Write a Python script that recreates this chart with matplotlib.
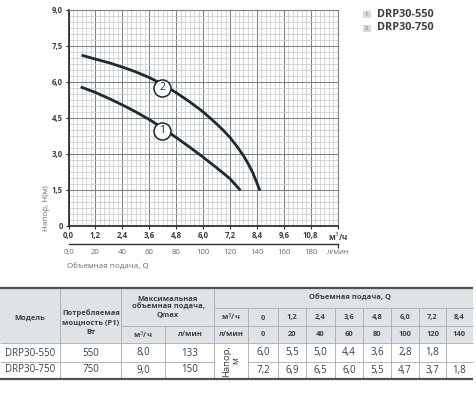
import matplotlib
matplotlib.use("Agg")
import matplotlib.pyplot as plt
from matplotlib.ticker import MultipleLocator
import numpy as np

plt.rcParams['font.family'] = ['Open Sans', 'DejaVu Sans']

# curves (Q in m3/h, H in m)
q_550 = [0.6, 1.2, 1.8, 2.4, 3.0, 3.6, 4.2, 4.8, 5.4, 6.0, 6.6, 7.2, 7.62]
h_550 = [5.77, 5.56, 5.31, 5.04, 4.75, 4.43, 4.07, 3.68, 3.28, 2.86, 2.42, 1.96, 1.52]
q_750 = [0.64, 1.2, 1.8, 2.4, 3.0, 3.6, 4.2, 4.8, 5.4, 6.0, 6.6, 6.9, 7.2, 7.5, 7.8, 8.0, 8.2, 8.35, 8.51]
h_750 = [7.1, 6.95, 6.8, 6.62, 6.42, 6.18, 5.9, 5.55, 5.17, 4.75, 4.25, 3.98, 3.68, 3.32, 2.92, 2.6, 2.24, 1.9, 1.52]
label_q = [4.19, 4.19]
label_h = [3.96, 5.76]

# table
models = ["DRP30-550", "DRP30-750"]
power_w = [550, 750]
qmax_m3h = [8.0, 9.0]
qmax_lmin = [133, 150]
flow_m3h = [0, 1.2, 2.4, 3.6, 4.8, 6.0, 7.2, 8.4]
flow_lmin = [0, 20, 40, 60, 80, 100, 120, 140]
head_550 = [6.0, 5.5, 5.0, 4.4, 3.6, 2.8, 1.8, None]
head_750 = [7.2, 6.9, 6.5, 6.0, 5.5, 4.7, 3.7, 1.8]

dark = "#2b3237"
txt = "#3a4046"
gray_txt = "#676d72"
line_c = "#1e2a30"


def com(v):
    return f"{v:.1f}".replace(".", ",")


W, H = 476, 399
fig = plt.figure(figsize=(W / 100, H / 100), dpi=100)

# overlay in pixel coords for table, legend and free labels
ov = fig.add_axes([0, 0, 1, 1], zorder=0)
ov.set_xlim(0, W)
ov.set_ylim(H, 0)
ov.set_axis_off()
ov.patch.set_alpha(0)

x0, x1, y0, y1 = 68.5, 337.7, 10, 225.7
ax = fig.add_axes([x0 / W, 1 - y1 / H, (x1 - x0) / W, (y1 - y0) / H], zorder=1)
ax.set_xlim(0, 12)
ax.set_ylim(0, 9)

ax.xaxis.set_minor_locator(MultipleLocator(0.2))
ax.yaxis.set_minor_locator(MultipleLocator(0.25))
xt = np.arange(0, 12.01, 1.2)
ax.set_xticks(xt)
ax.set_xticklabels([com(v) for v in xt[:-1]] + [""])
yt = np.arange(0, 9.01, 1.5)
ax.set_yticks(yt)
ax.set_yticklabels(["0"] + [com(v) for v in yt[1:]])
ax.grid(which="major", color="#7a8288", lw=0.75)
ax.grid(which="minor", color="#c3c7cb", lw=0.5)
ax.set_axisbelow(True)
ax.tick_params(which="major", length=2, width=0.8, color=dark, labelsize=5.6,
               labelcolor=txt, pad=2)
ax.tick_params(which="minor", length=0)
for lab in ax.get_xticklabels() + ax.get_yticklabels():
    lab.set_fontweight("bold")
for s in ["left", "bottom"]:
    ax.spines[s].set_color(dark)
    ax.spines[s].set_linewidth(1.3)
for s in ["top", "right"]:
    ax.spines[s].set_color("#7a8288")
    ax.spines[s].set_linewidth(0.8)

ax.plot(q_550, h_550, color=line_c, lw=2.0, zorder=3)
ax.plot(q_750, h_750, color=line_c, lw=2.0, zorder=3)
for i, (lq, lh) in enumerate(zip(label_q, label_h)):
    ax.scatter([lq], [lh], s=150, facecolor="white", edgecolor=line_c, lw=1.1, zorder=4)
    ax.text(lq, lh, str(i + 1), ha="center", va="center", fontsize=7.5,
            color=line_c, zorder=5)

# second flow axis in l/min
sec = ax.secondary_xaxis(-0.087, functions=(lambda q: q * 50 / 3, lambda l: l * 3 / 50))
sec.set_xticks(range(0, 181, 20))
sec.set_xticklabels(["0,0"] + [str(v) for v in range(20, 181, 20)])
sec.set_xticks([0, 200], minor=True)
sec.tick_params(which="major", length=0, labelsize=5.6, labelcolor=gray_txt, pad=3.5)
sec.tick_params(which="minor", length=3, width=0.9, color=dark)
sec.spines["bottom"].set_color(dark)
sec.spines["bottom"].set_linewidth(1.0)

ov.text(338, 237, "м$^3$/ч", ha="center", va="center", fontsize=5.8,
        fontweight="bold", color=txt)
ov.text(338, 253, "л/мин", ha="center", va="center", fontsize=5.6, color=gray_txt)
ov.text(46.5, 208, "Напор, H(м)", rotation=90, ha="center", va="center",
        fontsize=5.8, color=gray_txt)
ov.text(67, 267, "Объемная подача, Q", ha="left", va="center", fontsize=5.8,
        color=gray_txt)

# legend
for i, (name, yc) in enumerate(zip(models, [14.5, 28])):
    ov.add_patch(plt.Rectangle((362.7, yc - 3.5), 8, 7, facecolor="#d6dadd",
                               edgecolor="none"))
    ov.text(366.7, yc, str(i + 1), ha="center", va="center", fontsize=4.5,
            color="#6f757a")
    ov.text(377, yc, name, ha="left", va="center", fontsize=7.8,
            fontweight="bold", color=txt)

# table
cols = [0, 60, 121, 165, 214, 248, 278, 306, 335, 363, 391, 419, 446, 473]
ty = [288, 307.7, 326, 343.3, 361.7, 379]
hdr_bg = "#dfe3e6"
grid_c = "#a4aaaf"
ov.add_patch(plt.Rectangle((0, ty[0]), cols[-1], ty[3] - ty[0], facecolor=hdr_bg,
                           edgecolor="none"))


def hline(y, xa, xb, lw=0.6, c=grid_c):
    ov.plot([xa, xb], [y, y], color=c, lw=lw, solid_capstyle="butt")


def vline(x, ya, yb, lw=0.6, c=grid_c):
    ov.plot([x, x], [ya, yb], color=c, lw=lw, solid_capstyle="butt")


hline(ty[1], cols[4], cols[-1])
hline(ty[2], cols[2], cols[-1])
hline(ty[3], 0, cols[-1])
hline(ty[4], 0, cols[4])
hline(ty[4], cols[5], cols[-1])
vline(cols[1], ty[0], ty[5])
vline(cols[2], ty[0], ty[5])
vline(cols[3], ty[2], ty[5])
vline(cols[4], ty[0], ty[5])
for c in cols[5:-1]:
    vline(c, ty[1], ty[5])
hline(ty[0], 0, cols[-1], lw=1.6, c="#4d5358")
hline(ty[5], 0, cols[-1], lw=1.6, c="#4d5358")

hkw = dict(ha="center", va="center", fontsize=5.4, fontweight="bold", color=txt)
ov.text(30, 318, "Модель", **hkw)
ov.text(91, 322.5, "Потребляемая\nмощность (P1)\nВт", linespacing=1.45, **hkw)
ov.text(168, 307.5, "Максимальная\nобъемная подача,\nQmax", linespacing=1.25, **hkw)
ov.text(143, 335, "м$^3$/ч", **hkw)
ov.text(190, 335, "л/мин", **hkw)
ov.text(350, 298.3, "Объемная подача, Q", **hkw)
ov.text(231, 317.5, "м$^3$/ч", **hkw)
ov.text(231, 335, "л/мин", **hkw)
for j in range(8):
    xc = (cols[5 + j] + cols[6 + j]) / 2
    ov.text(xc, 318, "0" if flow_m3h[j] == 0 else com(flow_m3h[j]), **hkw)
    ov.text(xc, 335, str(flow_lmin[j]), **hkw)

dkw = dict(ha="center", va="center", fontsize=7.0, color=txt)
row_y = [353, 370]
heads = [head_550, head_750]
for r in range(2):
    yc = row_y[r]
    ov.text(30, yc, models[r], **dkw)
    ov.text(91, yc, str(power_w[r]), **dkw)
    ov.text(143, yc, com(qmax_m3h[r]), **dkw)
    ov.text(190, yc, str(qmax_lmin[r]), **dkw)
    for j in range(8):
        v = heads[r][j]
        if v is None:
            continue
        xc = (cols[5 + j] + cols[6 + j]) / 2
        ov.text(xc, yc, com(v), **dkw)
ov.text(231, 361, "Напор,\nм", rotation=90, ha="center", va="center",
        fontsize=6.8, color=txt, linespacing=1.0)

fig.savefig("out.png", dpi=100)
